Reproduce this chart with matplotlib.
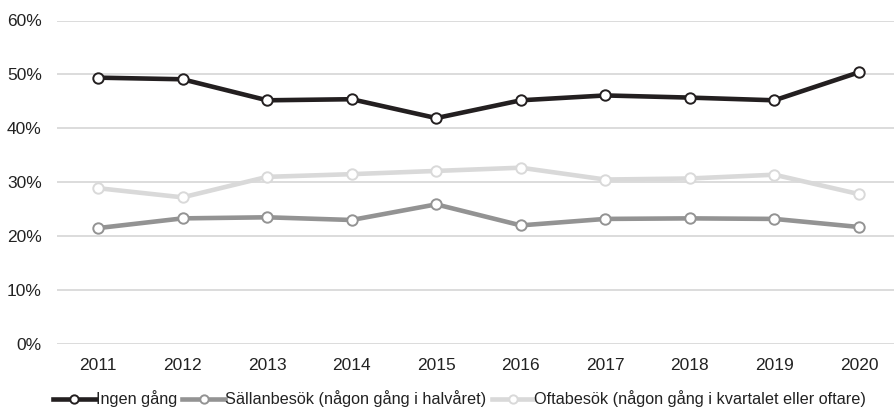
import matplotlib
matplotlib.use("Agg")
import matplotlib.pyplot as plt
from matplotlib.ticker import FuncFormatter

years = [2011, 2012, 2013, 2014, 2015, 2016, 2017, 2018, 2019, 2020]
ingen = [49.4, 49.1, 45.2, 45.4, 41.9, 45.2, 46.1, 45.7, 45.2, 50.4]
sallan = [21.5, 23.3, 23.5, 23.0, 25.9, 22.0, 23.2, 23.3, 23.2, 21.7]
ofta = [28.9, 27.2, 31.0, 31.5, 32.1, 32.7, 30.5, 30.7, 31.4, 27.8]
labels = ["Ingen gång", "Sällanbesök (någon gång i halvåret)",
          "Oftabesök (någon gång i kvartalet eller oftare)"]
colors = ["#231f20", "#939393", "#d9d9d9"]
yticks = [0, 10, 20, 30, 40, 50, 60]

plt.rcParams['font.family'] = ['Liberation Sans', 'DejaVu Sans']

fig = plt.figure(figsize=(8.95, 4.09), dpi=100)
ax = fig.add_axes([57/895, 1-344/409, (895-57)/895, (344-20.5)/409])

x = list(range(len(years)))
for vals, col, lab, z in zip([ingen, sallan, ofta], colors, labels, [3, 2, 1]):
    ax.plot(x, vals, color=col, lw=3.3, marker='o', ms=7.5, mfc='white',
            mec=col, mew=1.4, label=lab, zorder=z+2, clip_on=False)

step = (859-98)/9
ax.set_xlim(-(98-57)/step, 9 + (895-859)/step)
ax.set_ylim(0, 60)
ax.set_yticks(yticks)
ax.yaxis.set_major_formatter(FuncFormatter(lambda v, p: f"{int(v)}%"))
ax.set_xticks(x)
ax.set_xticklabels([str(y) for y in years])
ax.grid(axis='y', color='#d9d9d9', lw=1.3)
ax.set_axisbelow(True)
for s in ax.spines.values():
    s.set_visible(False)
ax.tick_params(length=0, labelsize=12.5, colors='#222222')
ax.tick_params(axis='y', pad=11)
ax.tick_params(axis='x', pad=10)

leg = fig.legend(loc='center', bbox_to_anchor=(459.5/895, 1-399/409), ncol=3, frameon=False,
                 fontsize=11.7, handlelength=2.6, handletextpad=0.0, columnspacing=0.35,
                 labelcolor='#222222', markerscale=0.8)
fig.savefig("out.png", dpi=100)
